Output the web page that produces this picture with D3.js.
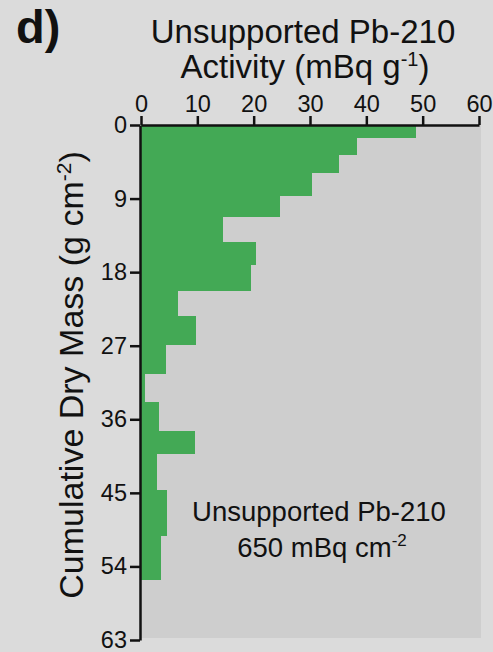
<!DOCTYPE html>
<html>
<head>
<meta charset="utf-8">
<script src="https://cdn.jsdelivr.net/npm/d3@7"></script>
<style>
  html, body { margin: 0; padding: 0; background: #dbdbdb; }
  svg { display: block; }
  text { font-family: "Liberation Sans", Arial, Helvetica, sans-serif; fill: #111; }
</style>
</head>
<body>
<svg id="chart" width="493" height="652"></svg>
<script>
// depth boundaries (cumulative dry mass, g cm-2) and activity per slice
const massEdges = [0, 1.55, 3.66, 5.9, 8.74, 11.2, 14.35, 17.18, 20.27, 23.32, 26.95, 30.44, 33.86, 37.45, 40.29, 44.65, 50.27, 55.62];
const activity = [48.9, 38.3, 35.2, 30.4, 24.6, 14.6, 20.5, 19.5, 6.6, 9.7, 4.4, 0.7, 3.2, 9.5, 2.9, 4.6, 3.6];
const xTicks = [0, 10, 20, 30, 40, 50, 60];
const yTicks = [0, 9, 18, 27, 36, 45, 54, 63];

const svg = d3.select("#chart");

const x = d3.scaleLinear().domain([0, 60]).range([141, 479]);
const y = d3.scaleLinear().domain([0, 63]).range([125, 640]);

const slices = activity.map((v, i) => ({top: massEdges[i], bottom: massEdges[i + 1], value: v}));

// plot background
svg.append("rect")
  .attr("x", x(0))
  .attr("y", y(0))
  .attr("width", x(60) - x(0) + 2)
  .attr("height", y(63) - y(0) - 2)
  .attr("fill", "#cecece");

// bars
svg.append("g")
  .selectAll("rect")
  .data(slices)
  .enter().append("rect")
  .attr("x", x(0))
  .attr("y", d => y(d.top))
  .attr("width", d => x(d.value) - x(0))
  .attr("height", d => y(d.bottom) - y(d.top))
  .attr("fill", "#43a955")
  .attr("shape-rendering", "crispEdges");

// axes
const xAxis = svg.append("g")
  .attr("transform", `translate(0,${y(0)})`)
  .call(d3.axisTop(x).tickValues(xTicks).tickSize(9).tickSizeOuter(0).tickPadding(4));

const yAxis = svg.append("g")
  .attr("transform", `translate(${x(0) - 1},0)`)
  .call(d3.axisLeft(y).tickValues(yTicks).tickSize(10).tickSizeOuter(0).tickPadding(3));

[xAxis, yAxis].forEach(g => {
  g.selectAll("path, line").attr("stroke", "#111").attr("stroke-width", 2.5);
  g.selectAll("text")
    .style("font-family", '"Liberation Sans", Arial, sans-serif')
    .style("font-size", "23.5px")
    .attr("fill", "#111");
});

// panel letter
svg.append("text")
  .attr("x", 16)
  .attr("y", 43)
  .style("font-size", "47px")
  .style("font-weight", "bold")
  .text("d)");

// title
svg.append("text")
  .attr("x", 303)
  .attr("y", 43)
  .attr("text-anchor", "middle")
  .style("font-size", "33px")
  .text("Unsupported Pb-210");

const t2 = svg.append("text")
  .attr("x", 305)
  .attr("y", 78)
  .attr("text-anchor", "middle")
  .style("font-size", "33px");
t2.append("tspan").text("Activity (mBq g");
t2.append("tspan").attr("dy", -12).style("font-size", "20px").text("-1");
t2.append("tspan").attr("dy", 12).text(")");

// y axis label
const yl = svg.append("text")
  .attr("transform", "translate(83,375) rotate(-90)")
  .attr("text-anchor", "middle")
  .style("font-size", "34px");
yl.append("tspan").text("Cumulative Dry Mass (g cm");
yl.append("tspan").attr("dy", -12).style("font-size", "21px").text("-2");
yl.append("tspan").attr("dy", 12).text(")");

// inventory annotation
svg.append("text")
  .attr("x", 319)
  .attr("y", 521)
  .attr("text-anchor", "middle")
  .style("font-size", "27.5px")
  .text("Unsupported Pb-210");

const a2 = svg.append("text")
  .attr("x", 322)
  .attr("y", 557)
  .attr("text-anchor", "middle")
  .style("font-size", "27.5px");
a2.append("tspan").text("650 mBq cm");
a2.append("tspan").attr("dy", -11).style("font-size", "17px").text("-2");
</script>
</body>
</html>
